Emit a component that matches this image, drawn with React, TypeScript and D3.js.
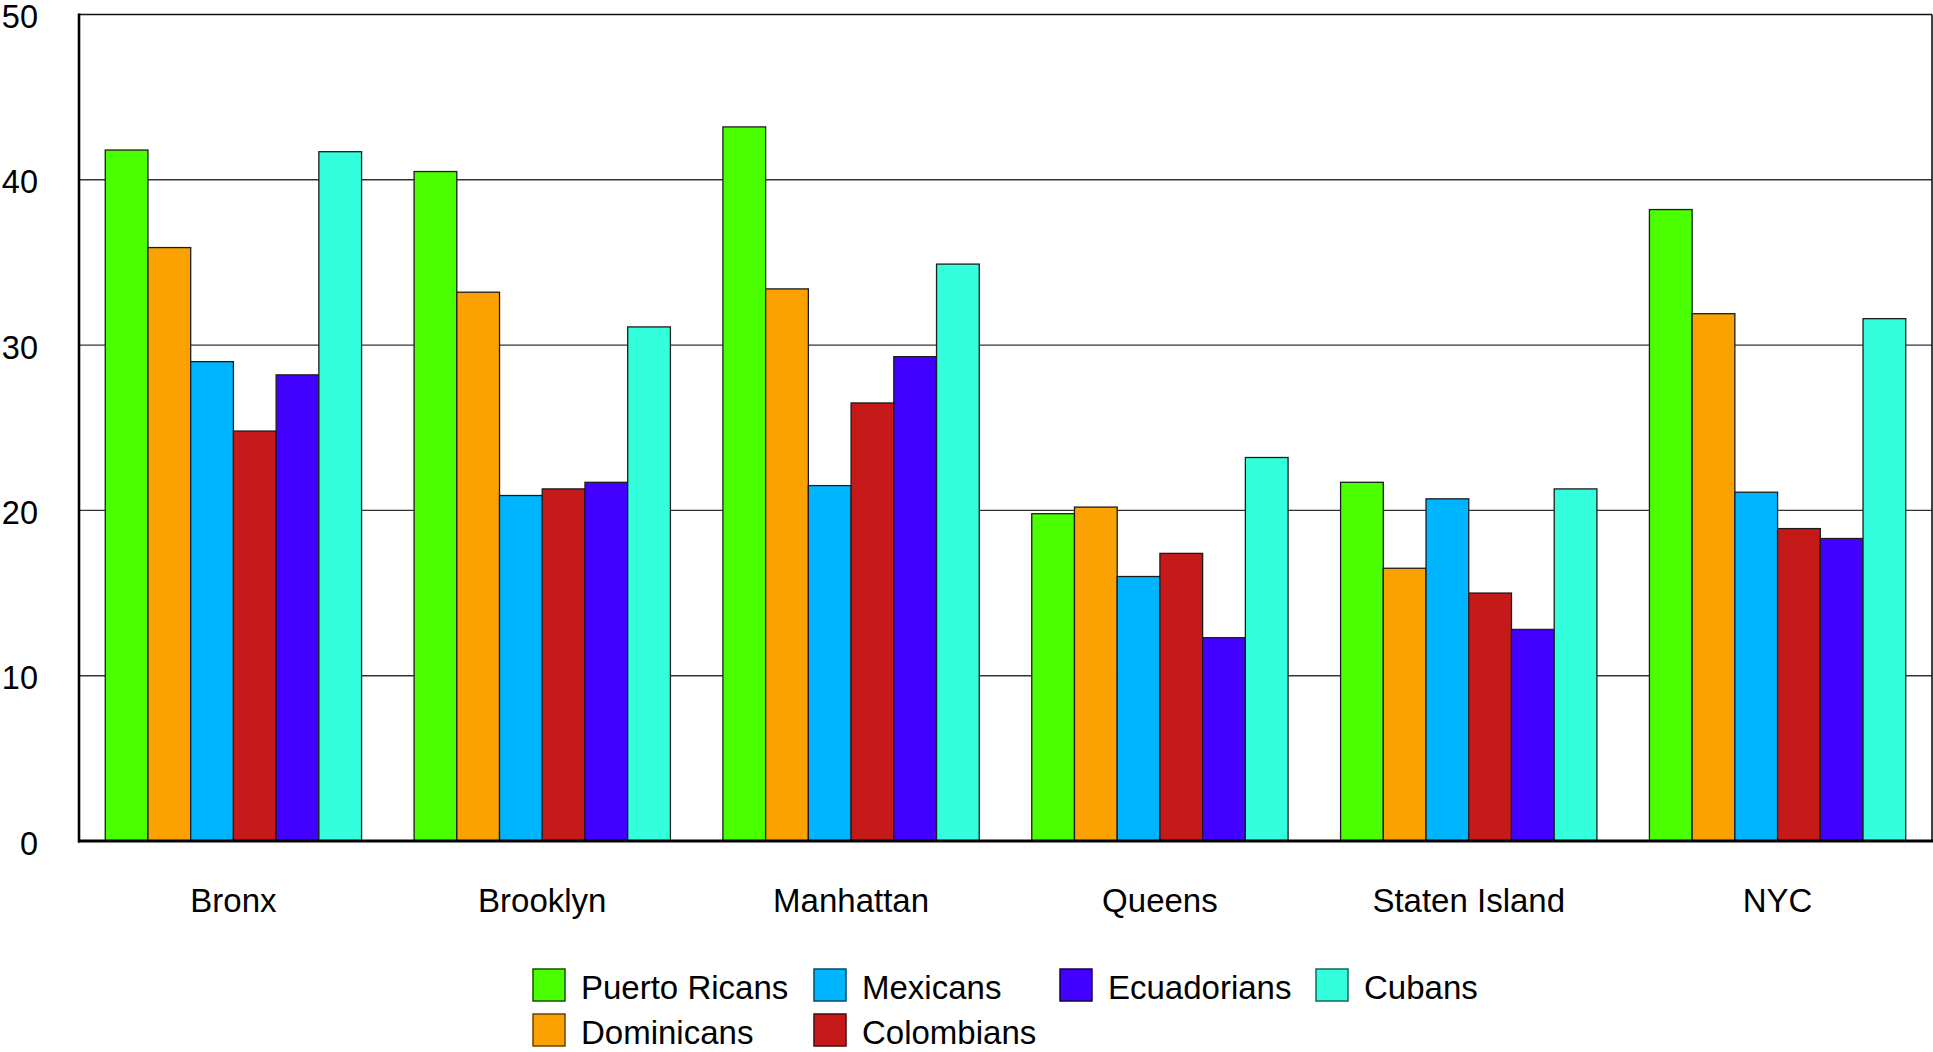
import * as d3 from "d3";

const boroughs = ["Bronx", "Brooklyn", "Manhattan", "Queens", "Staten Island", "NYC"];
const groups = ["Puerto Ricans", "Dominicans", "Mexicans", "Colombians", "Ecuadorians", "Cubans"];
const colors = ["#4aff00", "#fca102", "#00b5ff", "#c5191a", "#4100ff", "#33ffdc"];
const strokes = ["#1a5200", "#6b4300", "#004b6b", "#4a0a0a", "#14004f", "#0f6b5a"];

// values per borough, in the order of groups
const puertoRicans = [41.8, 40.5, 43.2, 19.8, 21.7, 38.2];
const dominicans = [35.9, 33.2, 33.4, 20.2, 16.5, 31.9];
const mexicans = [29.0, 20.9, 21.5, 16.0, 20.7, 21.1];
const colombians = [24.8, 21.3, 26.5, 17.4, 15.0, 18.9];
const ecuadorians = [28.2, 21.7, 29.3, 12.3, 12.8, 18.3];
const cubans = [41.7, 31.1, 34.9, 23.2, 21.3, 31.6];
const series = [puertoRicans, dominicans, mexicans, colombians, ecuadorians, cubans];

const yTicks = [0, 10, 20, 30, 40, 50];

const W = 1933;
const H = 1052;
const plot = { left: 79, right: 1932, top: 14.5, bottom: 841 };
const font = "'Liberation Sans', Arial, Helvetica, sans-serif";

// legend layout: [column x, row y] for each group, same order as groups
const legendSlots: [number, number][] = [
  [533, 969],
  [533, 1014],
  [814, 969],
  [814, 1014],
  [1060, 969],
  [1316, 969],
];

export default function App() {
  const x0 = d3
    .scaleBand<string>()
    .domain(boroughs)
    .range([plot.left, plot.right])
    .paddingInner(0.17)
    .paddingOuter(0.085);

  const x1 = d3.scaleBand<string>().domain(groups).range([0, x0.bandwidth()]);

  const y = d3.scaleLinear().domain([0, 50]).range([plot.bottom, plot.top]);

  return (
    <div style={{ position: "absolute", left: 0, top: 0 }}>
      <svg width={W} height={H} style={{ display: "block", background: "#fff" }} fontFamily={font}>
        {/* grid lines */}
        {yTicks
          .filter((t) => t > 0 && t < 50)
          .map((t) => (
            <line key={t} x1={plot.left} x2={plot.right} y1={y(t)} y2={y(t)} stroke="#333" strokeWidth={1.4} />
          ))}

        {/* frame top/right */}
        <line x1={plot.left} x2={plot.right} y1={y(50)} y2={y(50)} stroke="#111" strokeWidth={1.6} />
        <line x1={plot.right} x2={plot.right} y1={y(50)} y2={y(0)} stroke="#111" strokeWidth={1.6} />

        {/* bars */}
        {boroughs.map((b, bi) => (
          <g key={b} transform={`translate(${x0(b)},0)`}>
            {groups.map((g, gi) => {
              const v = series[gi][bi];
              return (
                <rect
                  key={g}
                  x={x1(g)}
                  y={y(v)}
                  width={x1.bandwidth()}
                  height={y(0) - y(v)}
                  fill={colors[gi]}
                  stroke="#1c1c1c"
                  strokeWidth={1.3}
                />
              );
            })}
          </g>
        ))}

        {/* axes */}
        <line x1={plot.left} x2={plot.left} y1={y(50) - 1} y2={y(0) + 1.5} stroke="#000" strokeWidth={2.6} />
        <line x1={plot.left - 1} x2={plot.right + 1} y1={y(0)} y2={y(0)} stroke="#000" strokeWidth={3} />

        {/* y tick labels */}
        {yTicks.map((t) => (
          <text key={t} x={38} y={y(t)} dy="0.42em" textAnchor="end" fontSize={32.5} fill="#000">
            {t}
          </text>
        ))}

        {/* category labels */}
        {boroughs.map((b) => (
          <text key={b} x={(x0(b) ?? 0) + x0.bandwidth() / 2} y={912} textAnchor="middle" fontSize={33} fill="#000">
            {b}
          </text>
        ))}

        {/* legend */}
        {groups.map((g, i) => {
          const [lx, ly] = legendSlots[i];
          return (
            <g key={g}>
              <rect x={lx} y={ly} width={32} height={32} fill={colors[i]} stroke={strokes[i]} strokeWidth={1.5} />
              <text x={lx + 48} y={ly + 30} fontSize={33} fill="#000">
                {g}
              </text>
            </g>
          );
        })}
      </svg>
    </div>
  );
}
